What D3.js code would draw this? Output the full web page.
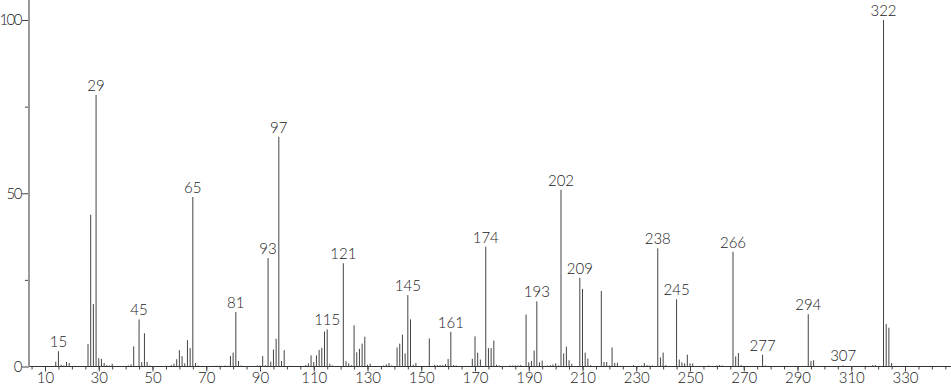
<!DOCTYPE html>
<html>
<head>
<meta charset="utf-8">
<script src="https://cdn.jsdelivr.net/npm/d3@7"></script>
<style>
  body { margin: 0; background: #fff; }
  svg { display: block; }
  text { font-family: Lato, "DejaVu Sans", sans-serif; font-weight: 300; fill: #222; }
</style>
</head>
<body>
<svg id="chart" width="951" height="389"></svg>
<script>
// m/z values and relative intensities
var mz = [14,15,16,17,18,19,26,27,28,29,30,31,32,33,34,35,41,42,43,45,46,47,48,49,
  55,57,58,59,60,61,62,63,64,65,66,67,73,74,75,77,78,79,80,81,82,83,89,90,91,92,93,94,95,96,97,98,99,101,
  107,108,109,110,111,112,113,114,115,116,117,121,122,123,124,125,126,127,128,129,130,131,
  136,137,138,139,141,142,143,144,145,146,147,148,153,155,156,157,158,159,160,161,162,163,
  169,170,171,172,174,175,176,177,178,179,183,184,185,186,187,189,190,191,192,193,194,195,
  197,198,199,200,201,202,203,204,205,206,209,210,211,212,213,217,218,219,220,221,222,223,
  229,232,233,234,235,236,238,239,240,241,245,246,247,248,249,250,251,257,260,261,262,
  266,267,268,269,277,278,294,295,296,307,318,319,322,323,324,325];
var intensity = [1.4,4.4,0.5,0.3,1.3,1.0,6.5,43.8,18.0,78.4,2.4,2.2,1.0,0.4,0.3,0.8,0.3,0.6,5.8,13.6,1.3,9.6,1.3,0.3,
  0.2,0.4,0.8,2.1,4.7,3.0,0.9,7.6,5.3,48.9,1.0,0.3,0.2,0.2,0.2,0.3,0.2,3.0,4.0,15.7,1.6,0.3,0.3,0.3,3.0,0.4,31.3,1.4,4.9,8.0,66.3,1.6,4.7,0.2,
  0.4,0.9,3.2,1.3,3.2,4.8,5.4,10.1,10.7,0.8,0.3,29.8,1.5,0.9,0.4,11.9,4.1,5.1,6.6,8.6,0.5,0.8,
  0.3,0.6,1.0,0.3,5.5,6.6,9.2,3.8,20.6,13.6,0.5,1.0,8.1,0.5,0.4,0.4,0.4,0.7,2.2,10.0,0.4,0.3,
  2.2,8.7,4.0,2.0,34.6,5.3,5.3,7.5,0.5,0.3,0.3,0.3,0.3,0.3,0.4,15.0,1.2,1.6,4.6,18.8,1.2,1.7,
  0.3,0.4,0.6,0.9,0.3,51.0,3.8,5.7,1.8,0.8,25.6,22.4,4.0,2.3,0.4,21.8,1.3,1.3,0.3,5.5,1.0,1.1,
  0.4,0.3,1.0,0.4,0.3,0.3,34.1,2.6,4.0,0.4,19.4,2.0,1.2,0.9,3.4,0.9,0.9,0.3,0.3,0.4,0.3,
  33.1,2.9,3.9,0.4,3.4,0.3,15.1,1.6,1.8,0.3,0.4,0.4,100,12.3,11.2,1.0];
var labelled = [15,29,45,65,81,93,97,115,121,145,161,174,193,202,209,238,245,266,277,294,307,322];
var xMajor = d3.range(10, 331, 20);
var xMinor = d3.range(5, 346, 5);
var yMajor = [0, 50, 100];
var yMinor = [25, 75];

var peaks = mz.map(function(m, i) { return {mz: m, v: intensity[i]}; });

var svg = d3.select("#chart");
var x = d3.scaleLinear().domain([10, 330]).range([45, 905]);
var y = d3.scaleLinear().domain([0, 100]).range([366.5, 20]);
var x0 = 29, y0 = y(0);

// axes
var xMinorAxis = d3.axisBottom(x).tickValues(xMinor).tickSize(3).tickFormat("");
var xAxis = d3.axisBottom(x).tickValues(xMajor).tickSize(5).tickPadding(1).tickFormat(d3.format("d"));
var gxm = svg.append("g").attr("transform", "translate(0," + y0 + ")").call(xMinorAxis);
var gx = svg.append("g").attr("transform", "translate(0," + y0 + ")").call(xAxis);
gxm.select(".domain").remove();
gx.select(".domain").remove();
svg.append("line").attr("x1", x0).attr("x2", 951).attr("y1", y0).attr("y2", y0)
  .attr("stroke", "#333").attr("stroke-width", 1);

var yMinorAxis = d3.axisLeft(y).tickValues(yMinor).tickSize(4).tickFormat("");
var yAxis = d3.axisLeft(y).tickValues(yMajor).tickSize(7).tickPadding(1).tickFormat(d3.format("d"));
var gym = svg.append("g").attr("transform", "translate(" + x0 + ",0)").call(yMinorAxis);
var gy = svg.append("g").attr("transform", "translate(" + x0 + ",0)").call(yAxis);
gym.select(".domain").remove();
gy.select(".domain").remove();
svg.append("line").attr("x1", x0).attr("x2", x0).attr("y1", 0).attr("y2", y0)
  .attr("stroke", "#999").attr("stroke-width", 2);

svg.selectAll(".tick line").attr("stroke", "#444");
svg.selectAll(".tick text").attr("font-size", 15).attr("fill", "#222")
  .attr("font-family", "Lato, sans-serif").attr("font-weight", 300);
gy.selectAll(".tick text").attr("letter-spacing", "-1.5px");

// peaks
svg.append("g").selectAll("line.peak")
  .data(peaks)
  .join("line")
  .attr("class", "peak")
  .attr("x1", function(d) { return x(d.mz); })
  .attr("x2", function(d) { return x(d.mz); })
  .attr("y1", y0)
  .attr("y2", function(d) { return y(d.v); })
  .attr("stroke", "#444")
  .attr("stroke-width", 1);

// peak labels
svg.append("g").selectAll("text.lab")
  .data(peaks.filter(function(d) { return labelled.indexOf(d.mz) >= 0; }))
  .join("text")
  .attr("class", "lab")
  .attr("x", function(d) { return x(d.mz); })
  .attr("y", function(d) { return y(d.v) - 4; })
  .attr("text-anchor", "middle")
  .attr("font-size", 15)
  .text(function(d) { return d.mz; });
</script>
</body>
</html>
